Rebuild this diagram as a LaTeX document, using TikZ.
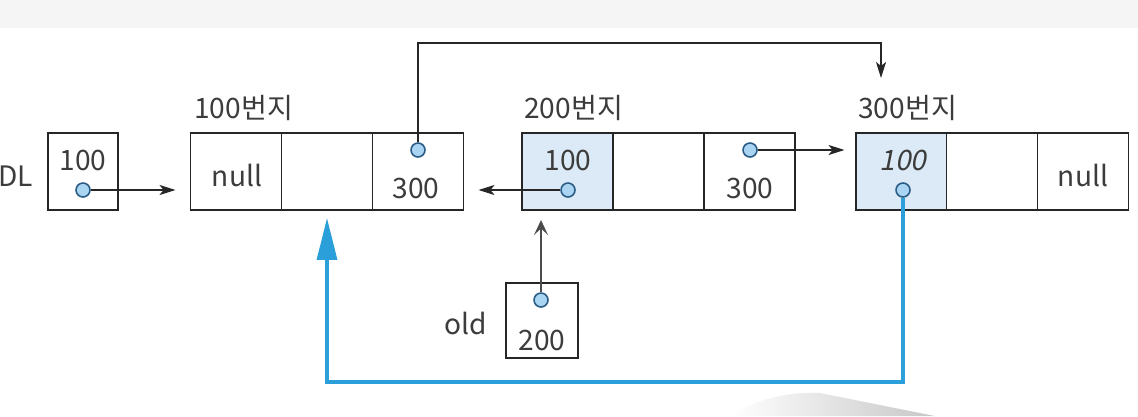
\documentclass[tikz,border=0pt]{standalone}
\usepackage{fontspec}
\setmainfont{Noto Sans CJK KR}
\newfontfamily\slantfont[FakeSlant=0.2]{Noto Sans CJK KR}
\usetikzlibrary{arrows.meta,positioning}

\definecolor{dotfill}{HTML}{A9D5F2}
\definecolor{dotline}{HTML}{2B5C85}
\definecolor{cellblue}{HTML}{DCEAF7}
\definecolor{linkblue}{HTML}{2A9FDA}
\definecolor{txtgray}{HTML}{3C3C3C}

\tikzset{
  cell/.style={draw=black!85, line width=1.1pt, minimum width=1.82cm,
    minimum height=1.54cm, inner sep=0pt, outer sep=0pt},
  ptr/.style={circle, draw=dotline, fill=dotfill, line width=0.9pt,
    minimum size=0.28cm, inner sep=0pt},
  val/.style={text=txtgray, font=\fontsize{16}{18}\selectfont, inner sep=0pt},
  link/.style={draw=black!85, line width=1pt, -{Stealth[length=3.2mm,width=2mm,inset=0.8mm]}},
}

\begin{document}
\begin{tikzpicture}[x=0.02cm,y=-0.02cm]
      \useasboundingbox (0,0) rectangle (1138,416);
      \fill[black!4] (0,0) rectangle (1138,28);
      \shade[left color=white, right color=black!22]
        (730,416) .. controls (760,397) and (790,392) .. (820,393) -- (935,416) -- cycle;

      % DL
      \node[cell, minimum width=1.4cm] (dl) at (83,171.5) {};
      \node[val, anchor=east] (dllab) at (33,176) {DL};
      \node[val] (dlval) at (83,160) {100};
      \node[ptr] (pdl) at (83,190) {};

      % 100번지
      \node[cell] (n1b) at (327,171.5) {};
      \node[cell, left=0pt of n1b] (n1a) {};
      \node[cell, right=0pt of n1b] (n1c) {};
      \node[val, anchor=west] (lab1) at (194,108) {100번지};
      \node[val] (n1null) at (237,175) {null};
      \node[val] (n1val) at (416,188) {300};
      \node[ptr] (p1c) at (418,150) {};

      % 200번지
      \node[cell] (n2b) at (658.5,171.5) {};
      \node[cell, fill=cellblue, left=0pt of n2b] (n2a) {};
      \node[cell, right=0pt of n2b] (n2c) {};
      \node[val, anchor=west] (lab2) at (524,108) {200번지};
      \node[val] (n2val) at (568,160) {100};
      \node[ptr] (p2a) at (568,190) {};
      \node[val] (n2next) at (750,188) {300};
      \node[ptr] (p2c) at (750,150) {};

      % 300번지
      \node[cell] (n3b) at (992,171.5) {};
      \node[cell, fill=cellblue, left=0pt of n3b] (n3a) {};
      \node[cell, right=0pt of n3b] (n3c) {};
      \node[val, anchor=west] (lab3) at (858,108) {300번지};
      \node[val, font=\fontsize{16}{18}\selectfont\slantfont] (n3val) at (903,160) {100};
      \node[ptr] (p3a) at (903,190) {};
      \node[val] (n3null) at (1083,175) {null};

      % old
      \node[cell, minimum width=1.44cm, minimum height=1.5cm] (old) at (542,320.5) {};
      \node[val, anchor=east] (oldlab) at (487,323) {old};
      \node[val] (oldval) at (542,340) {200};
      \node[ptr] (pold) at (541,300) {};

      \coordinate (rail) at (650,43);
      \coordinate (top3) at (881,78);
      \coordinate (rail2) at (650,382);

      \draw[link, shorten >=0.3cm] (pdl) -- (pdl -| n1a.west);
      \draw[link, shorten >=0.3cm] (p2a) -- (p2a -| n1c.east);
      \draw[link, shorten >=0.22cm] (p2c) -- (p2c -| n3a.west);
      \draw[link] (p1c) -- (p1c |- rail) -- (top3 |- rail) -- (top3);
      \draw[draw=black!70, line width=0.8pt, -{Stealth[length=3mm,width=2.8mm,inset=1.3mm]},
        shorten >=0.2cm] (pold) -- (pold |- n2a.south);
      \draw[draw=linkblue, line width=1.8pt, -{Triangle[length=8.4mm,width=4mm]}, shorten >=0.16cm]
        (p3a) -- (p3a |- rail2) -- (n1b.south |- rail2) -- (n1b.south);
    \end{tikzpicture}
\end{document}
